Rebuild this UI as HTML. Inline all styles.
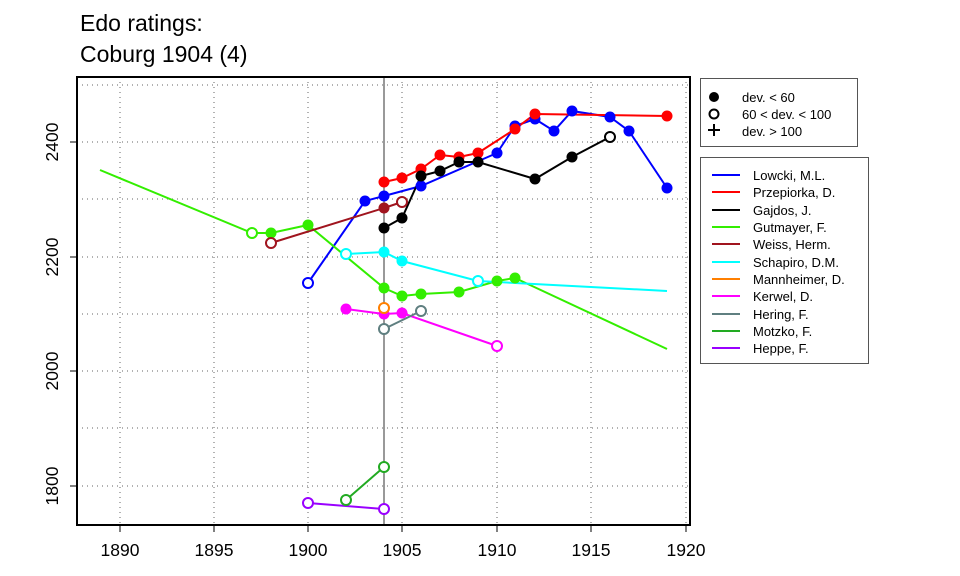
<!DOCTYPE html><html><head><style>body{margin:0;background:#fff}svg{display:block}text{font-family:"Liberation Sans",sans-serif}</style></head><body>
<svg width="960" height="576" xmlns="http://www.w3.org/2000/svg">
<text x="80" y="31" font-size="23">Edo ratings:</text>
<text x="80" y="62" font-size="23">Coburg 1904 (4)</text>
<g stroke="#666" stroke-dasharray="1,4" stroke-width="1">
<line x1="120" y1="77" x2="120" y2="525"/><line x1="214" y1="77" x2="214" y2="525"/><line x1="308" y1="77" x2="308" y2="525"/><line x1="402" y1="77" x2="402" y2="525"/><line x1="497" y1="77" x2="497" y2="525"/><line x1="591" y1="77" x2="591" y2="525"/><line x1="686" y1="77" x2="686" y2="525"/>
<line x1="77" y1="85" x2="690" y2="85"/><line x1="77" y1="142" x2="690" y2="142"/><line x1="77" y1="199" x2="690" y2="199"/><line x1="77" y1="257" x2="690" y2="257"/><line x1="77" y1="314" x2="690" y2="314"/><line x1="77" y1="371" x2="690" y2="371"/><line x1="77" y1="428" x2="690" y2="428"/><line x1="77" y1="486" x2="690" y2="486"/>
</g>
<line x1="384" y1="77" x2="384" y2="525" stroke="#999" stroke-width="2"/>
<g fill="none" stroke-width="2">
<polyline stroke="#0000ff" points="308,283 365,201 384,196 421,186 497,153 515,126 535,119 554,131 572,111 610,117 629,131 667,188"/>
<polyline stroke="#ff0000" points="384,182 402,178 421,169 440,155 459,157 478,153 515,129 535,114 667,116"/>
<polyline stroke="#000" points="384,228 402,218 421,176 440,171 459,162 478,162 535,179 572,157 610,137"/>
<polyline stroke="#33ee00" points="100,170 252,233 271,233 308,225 384,288 402,296 421,294 459,292 497,281 515,278 667,349"/>
<polyline stroke="#a0141e" points="271,243 384,208 402,202"/>
<polyline stroke="#00ffff" points="346,254 384,252 402,261 478,281 667,291"/>
<polyline stroke="#ff00ff" points="346,309 384,314 402,313 497,346"/>
<polyline stroke="#5f7f80" points="384,329 421,311"/>
<polyline stroke="#22aa22" points="346,500 384,467"/>
<polyline stroke="#9900ff" points="308,503 384,509"/>
</g>
<g stroke="none">
<g fill="#0000ff"><circle cx="365" cy="201" r="5.5"/><circle cx="384" cy="196" r="5.5"/><circle cx="421" cy="186" r="5.5"/><circle cx="497" cy="153" r="5.5"/><circle cx="515" cy="126" r="5.5"/><circle cx="535" cy="119" r="5.5"/><circle cx="554" cy="131" r="5.5"/><circle cx="572" cy="111" r="5.5"/><circle cx="610" cy="117" r="5.5"/><circle cx="629" cy="131" r="5.5"/><circle cx="667" cy="188" r="5.5"/></g>
<g fill="#ff0000"><circle cx="384" cy="182" r="5.5"/><circle cx="402" cy="178" r="5.5"/><circle cx="421" cy="169" r="5.5"/><circle cx="440" cy="155" r="5.5"/><circle cx="459" cy="157" r="5.5"/><circle cx="478" cy="153" r="5.5"/><circle cx="515" cy="129" r="5.5"/><circle cx="535" cy="114" r="5.5"/><circle cx="667" cy="116" r="5.5"/></g>
<g fill="#000"><circle cx="384" cy="228" r="5.5"/><circle cx="402" cy="218" r="5.5"/><circle cx="421" cy="176" r="5.5"/><circle cx="440" cy="171" r="5.5"/><circle cx="459" cy="162" r="5.5"/><circle cx="478" cy="162" r="5.5"/><circle cx="535" cy="179" r="5.5"/><circle cx="572" cy="157" r="5.5"/></g>
<g fill="#33ee00"><circle cx="271" cy="233" r="5.5"/><circle cx="308" cy="225" r="5.5"/><circle cx="384" cy="288" r="5.5"/><circle cx="402" cy="296" r="5.5"/><circle cx="421" cy="294" r="5.5"/><circle cx="459" cy="292" r="5.5"/><circle cx="497" cy="281" r="5.5"/><circle cx="515" cy="278" r="5.5"/></g>
<circle cx="384" cy="208" r="5.5" fill="#a0141e"/>
<g fill="#00ffff"><circle cx="384" cy="252" r="5.5"/><circle cx="402" cy="261" r="5.5"/></g>
<g fill="#ff00ff"><circle cx="346" cy="309" r="5.5"/><circle cx="384" cy="314" r="5.5"/><circle cx="402" cy="313" r="5.5"/></g>
</g>
<g fill="#fff" stroke-width="2">
<circle cx="308" cy="283" r="5" stroke="#0000ff"/>
<circle cx="610" cy="137" r="5" stroke="#000"/>
<circle cx="252" cy="233" r="5" stroke="#33ee00"/>
<circle cx="271" cy="243" r="5" stroke="#a0141e"/><circle cx="402" cy="202" r="5" stroke="#a0141e"/>
<circle cx="346" cy="254" r="5" stroke="#00ffff"/><circle cx="478" cy="281" r="5" stroke="#00ffff"/>
<circle cx="384" cy="308" r="5" stroke="#ff7f00"/>
<circle cx="497" cy="346" r="5" stroke="#ff00ff"/>
<circle cx="384" cy="329" r="5" stroke="#5f7f80"/><circle cx="421" cy="311" r="5" stroke="#5f7f80"/>
<circle cx="346" cy="500" r="5" stroke="#22aa22"/><circle cx="384" cy="467" r="5" stroke="#22aa22"/>
<circle cx="308" cy="503" r="5" stroke="#9900ff"/><circle cx="384" cy="509" r="5" stroke="#9900ff"/>
</g>
<rect x="77" y="77" width="613" height="448" fill="none" stroke="#000" stroke-width="2"/>
<g stroke="#000"><line x1="120" y1="525" x2="120" y2="532"/><line x1="214" y1="525" x2="214" y2="532"/><line x1="308" y1="525" x2="308" y2="532"/><line x1="402" y1="525" x2="402" y2="532"/><line x1="497" y1="525" x2="497" y2="532"/><line x1="591" y1="525" x2="591" y2="532"/><line x1="686" y1="525" x2="686" y2="532"/>
<line x1="70" y1="142" x2="77" y2="142"/><line x1="70" y1="257" x2="77" y2="257"/><line x1="70" y1="371" x2="77" y2="371"/><line x1="70" y1="486" x2="77" y2="486"/></g>
<g font-size="17.5" text-anchor="middle"><text x="120" y="556">1890</text><text x="214" y="556">1895</text><text x="308" y="556">1900</text><text x="402" y="556">1905</text><text x="497" y="556">1910</text><text x="591" y="556">1915</text><text x="686" y="556">1920</text>
<text transform="translate(58,142) rotate(-90)">2400</text><text transform="translate(58,257) rotate(-90)">2200</text><text transform="translate(58,371) rotate(-90)">2000</text><text transform="translate(58,486) rotate(-90)">1800</text></g>
<rect x="700.5" y="78.5" width="157" height="68" fill="#fff" stroke="#555"/>
<circle cx="714" cy="97" r="5" fill="#000"/><circle cx="714" cy="114" r="4.5" fill="none" stroke="#000" stroke-width="2"/>
<path d="M708 130h12M714 124v12" stroke="#000" stroke-width="2"/>
<g font-size="13"><text x="742" y="102">dev. &lt; 60</text><text x="742" y="119">60 &lt; dev. &lt; 100</text><text x="742" y="136">dev. &gt; 100</text></g>
<rect x="700.5" y="157.5" width="168" height="206" fill="#fff" stroke="#555"/>
<g stroke-width="2">
<line x1="712" x2="740" y1="175" y2="175" stroke="#0000ff"/><line x1="712" x2="740" y1="192" y2="192" stroke="#ff0000"/><line x1="712" x2="740" y1="210" y2="210" stroke="#000"/><line x1="712" x2="740" y1="227" y2="227" stroke="#33ee00"/><line x1="712" x2="740" y1="244" y2="244" stroke="#a0141e"/><line x1="712" x2="740" y1="262" y2="262" stroke="#00ffff"/><line x1="712" x2="740" y1="279" y2="279" stroke="#ff7f00"/><line x1="712" x2="740" y1="296" y2="296" stroke="#ff00ff"/><line x1="712" x2="740" y1="314" y2="314" stroke="#5f7f80"/><line x1="712" x2="740" y1="331" y2="331" stroke="#22aa22"/><line x1="712" x2="740" y1="348" y2="348" stroke="#9900ff"/></g>
<g font-size="13"><text x="753" y="180">Lowcki, M.L.</text><text x="753" y="197">Przepiorka, D.</text><text x="753" y="215">Gajdos, J.</text><text x="753" y="232">Gutmayer, F.</text><text x="753" y="249">Weiss, Herm.</text><text x="753" y="267">Schapiro, D.M.</text><text x="753" y="284">Mannheimer, D.</text><text x="753" y="301">Kerwel, D.</text><text x="753" y="319">Hering, F.</text><text x="753" y="336">Motzko, F.</text><text x="753" y="353">Heppe, F.</text></g>
</svg></body></html>
